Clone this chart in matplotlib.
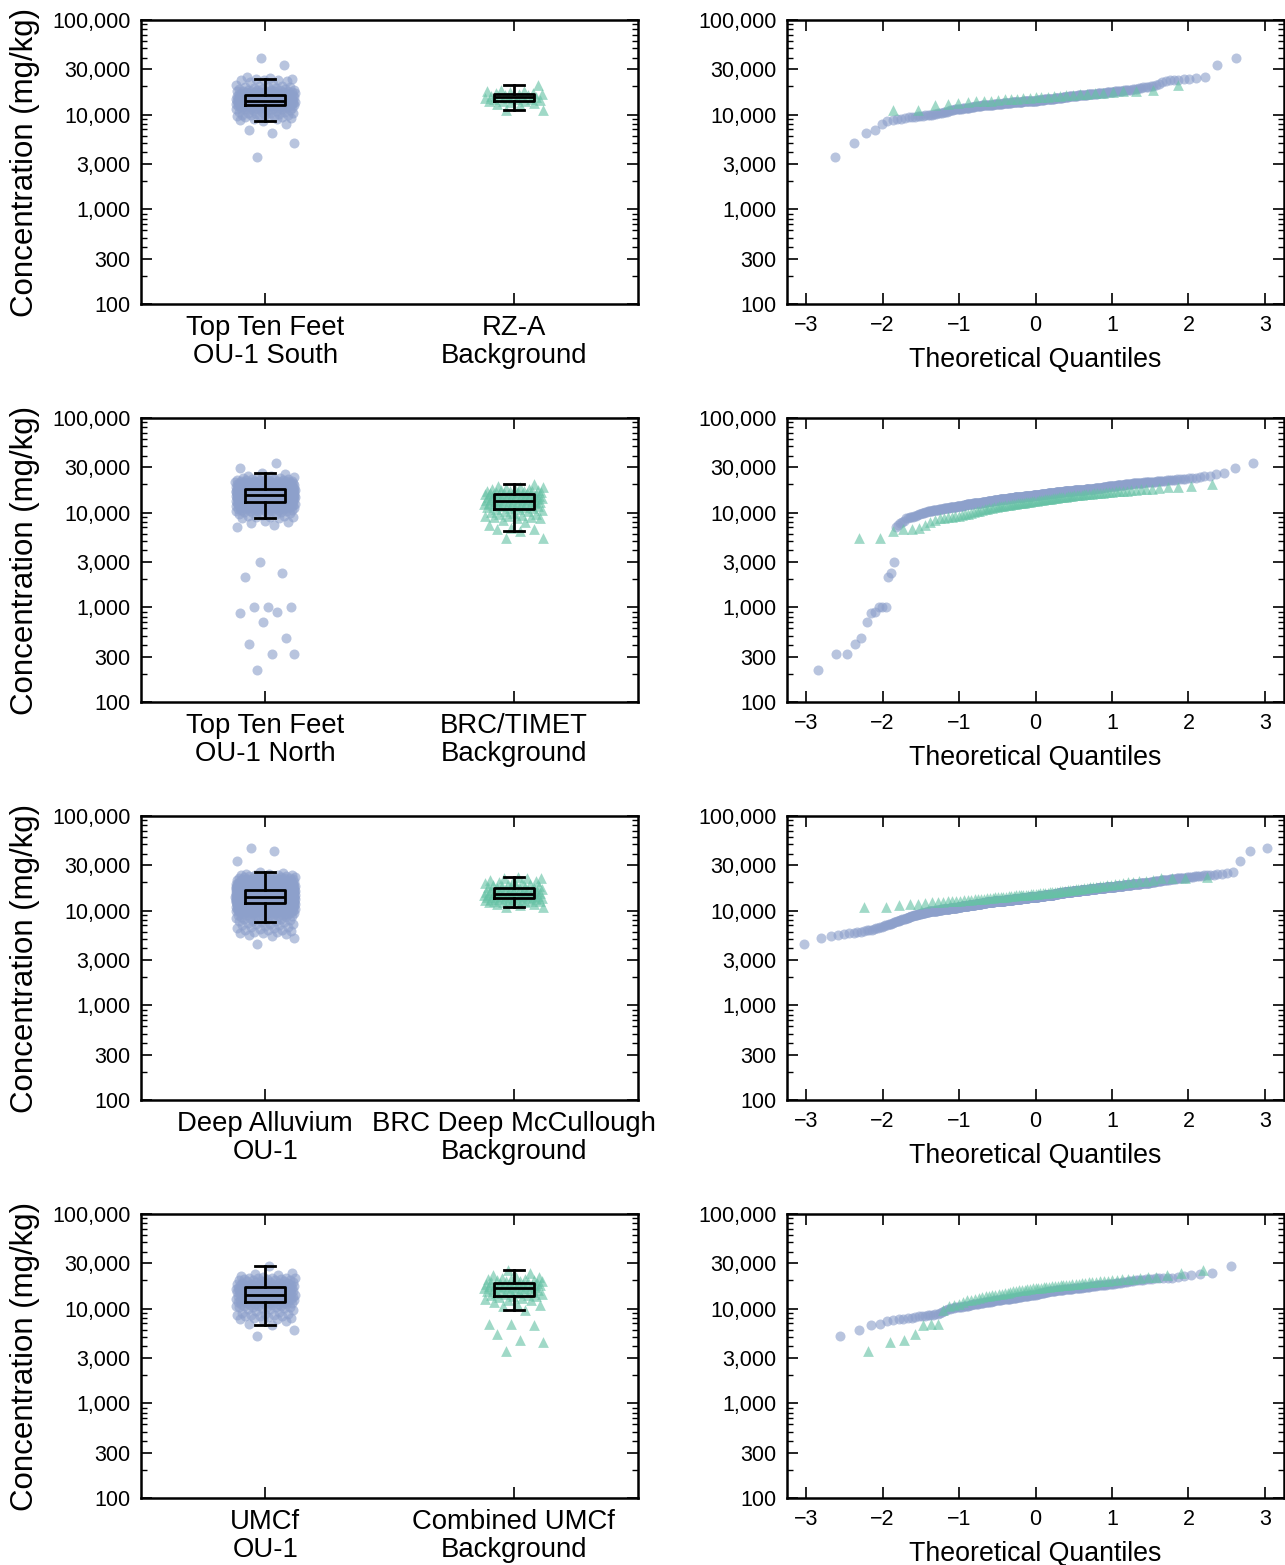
import numpy as np
import matplotlib
matplotlib.use("Agg")
import matplotlib.pyplot as plt
from matplotlib import cbook, ticker
from statistics import NormalDist

plt.rcParams['font.family'] = ['Liberation Sans', 'DejaVu Sans']

# concentrations in mg/kg (sorted)
ou1_south = [
    3600, 5000, 6400, 6900, 7900, 8600, 8700, 8900, 9000,
    9300, 9400, 9500, 9500, 9600, 9600, 9700, 9800, 9800,
    9900, 10000, 10100, 10200, 10300, 10400, 10500, 10600, 10700, 10800, 11000, 11100, 11300,
    11300, 11400, 11400, 11500, 11500, 11600, 11600, 11700, 11700, 11800, 11800, 11900, 11900,
    12000, 12000, 12100, 12100, 12200, 12200, 12300, 12300, 12400, 12400, 12500, 12500, 12500, 12600,
    12600, 12600, 12700, 12700, 12700, 12800, 12800, 12800, 12900, 12900, 12900, 13000, 13000, 13000,
    13100, 13100, 13100, 13200, 13200, 13200, 13300, 13300, 13300, 13300, 13400, 13400, 13400,
    13500, 13500, 13500, 13500, 13600, 13600, 13600, 13600,
    13700, 13700, 13700, 13700, 13700, 13800, 13800, 13800, 13800, 13800, 13900, 13900, 13900, 13900,
    13900, 14000, 14000, 14000, 14000, 14100, 14100,
    14100, 14200, 14200, 14300, 14300, 14300, 14400, 14400, 14400, 14500, 14500, 14500, 14600, 14600,
    14600, 14700, 14700, 14700, 14800, 14800, 14800, 14900, 14900, 14900, 15000, 15000, 15000, 15100,
    15100, 15100, 15200, 15200, 15200, 15300, 15300, 15400, 15500,
    15600, 15600, 15700, 15700, 15800, 15800, 15900, 15900, 15900, 16000, 16000, 16100, 16100, 16100,
    16200, 16200, 16300, 16300, 16300, 16400, 16400, 16500, 16500, 16500, 16600, 16600, 16700, 16700,
    16800, 16800, 16900, 16900,
    17000, 17000, 17100, 17200, 17200, 17300, 17400, 17400, 17500, 17600, 17600, 17700,
    17800, 17900, 18000, 18100, 18200, 18300, 18400, 18400, 18500, 18600,
    18800, 19000, 19200, 19400, 19600, 19800, 19900,
    19900, 20400, 21200, 22100, 22500, 23000, 23300, 23300, 24000, 24000, 24500, 25000, 33200, 39700,
]
rza_background = [
    11100, 11300, 12500, 13000, 13400, 13600, 13800, 14000, 14100, 14300, 14500, 14700, 14800,
    15000, 15100, 15300, 15400, 15500, 15700, 15800, 16000, 16200, 16400, 16600, 16800, 17000,
    17300, 17600, 17800, 18200, 20400,
]
ou1_north = [
    220, 320, 320, 410, 480, 700, 880, 900, 1000, 1000, 1000, 2100, 2300, 3000,
    7100, 7400, 7700, 8000, 8200,
    8700, 8800, 8900,
    9000, 9100, 9200, 9300, 9500,
    9600, 9700, 9800, 9900, 10000, 10100, 10200, 10300,
    10400, 10400, 10500, 10500, 10600, 10600, 10700, 10700, 10800, 10800,
    10900, 10900, 11000, 11000, 11000, 11100, 11100, 11200, 11200, 11200, 11300, 11300, 11400, 11400, 11400,
    11500, 11500, 11500, 11600, 11600, 11600, 11700, 11700, 11700, 11800, 11800, 11800, 11900, 11900,
    11900, 12000, 12000, 12000, 12100, 12100, 12200, 12200, 12200,
    12300, 12300, 12300, 12300, 12400, 12400, 12400, 12400, 12500, 12500, 12500, 12500, 12600, 12600,
    12600, 12600, 12700, 12700, 12700, 12700, 12800, 12800, 12800, 12900, 12900, 12900, 13000, 13000, 13000,
    13100, 13100, 13100, 13100, 13200, 13200, 13200, 13200, 13300, 13300, 13300, 13300, 13400, 13400,
    13400, 13400, 13500, 13500, 13500, 13500, 13600, 13600, 13600, 13600, 13700, 13700, 13700, 13700,
    13800, 13800, 13800, 13800, 13800,
    13900, 13900, 13900, 13900, 14000, 14000, 14000, 14000, 14000, 14100, 14100, 14100, 14100, 14200,
    14200, 14200, 14200, 14200, 14300, 14300, 14300, 14300, 14400, 14400, 14400, 14400, 14400, 14500,
    14500, 14500, 14500, 14600, 14600, 14600, 14600, 14600,
    14700, 14700, 14700, 14700, 14700, 14700, 14700, 14800, 14800, 14800, 14800, 14800, 14800, 14900,
    14900, 14900, 14900, 14900, 14900, 14900, 15000, 15000, 15000, 15000, 15000, 15000, 15100, 15100,
    15100, 15100, 15100, 15100, 15100, 15200, 15200, 15200, 15200, 15200, 15200,
    15300, 15300, 15300, 15300, 15400, 15400, 15400, 15400, 15500, 15500, 15500, 15500, 15600, 15600,
    15600, 15600, 15700, 15700, 15700, 15700, 15800, 15800, 15800, 15800, 15900, 15900, 15900, 15900,
    16000, 16000, 16000, 16000, 16100, 16100, 16100, 16100, 16100,
    16200, 16200, 16200, 16200, 16300, 16300, 16300, 16300, 16300, 16400, 16400, 16400, 16400, 16500,
    16500, 16500, 16500, 16500, 16600, 16600, 16600, 16600, 16700, 16700, 16700, 16700, 16700, 16800,
    16800, 16800, 16800, 16900, 16900, 16900, 16900, 16900,
    17000, 17000, 17000, 17000, 17000, 17000, 17100, 17100, 17100, 17100, 17100, 17100, 17200, 17200,
    17200, 17200, 17200, 17300, 17300, 17300, 17300, 17300, 17300, 17400, 17400, 17400, 17400, 17400,
    17400, 17500, 17500, 17500, 17500, 17500,
    17600, 17600, 17600, 17700, 17700, 17700, 17800, 17800, 17800, 17800, 17900, 17900, 17900, 18000,
    18000, 18000, 18000, 18100, 18100, 18100, 18200, 18200, 18200, 18200, 18300, 18300, 18300, 18300,
    18400, 18400, 18500, 18500, 18600, 18600, 18700, 18700, 18800, 18800, 18900, 18900, 19000, 19000,
    19000, 19100, 19100, 19100, 19200, 19200, 19300, 19300, 19400, 19400,
    19500, 19500, 19600, 19600, 19700, 19700, 19800, 19800, 19900, 19900, 20000, 20000, 20100, 20100,
    20200, 20200, 20400, 20400, 20400,
    20500, 20500, 20600, 20600, 20700, 20700, 20800, 20800, 20900, 20900, 21000, 21000, 21200, 21200, 21200,
    21300, 21300, 21400, 21400, 21600, 21600, 21800, 21800, 22000, 22000,
    22200, 22300, 22400, 22500, 22600, 22700, 22900,
    23000, 23200, 23400, 24000, 24400, 24600, 25500, 26300, 29500, 33300,
]
timet_background = [
    5400, 5400, 6400, 6700, 6800, 6900, 7400, 8000, 8400, 8700,
    8800, 9000, 9100, 9200, 9300, 9400, 9600, 9700,
    9900, 10100, 10300, 10500, 10700, 10900,
    11000, 11100, 11200, 11400, 11500, 11700, 11800,
    11900, 12000, 12000, 12100, 12200, 12300, 12400, 12500,
    12600, 12700, 12800, 12900, 13000, 13100, 13200, 13300,
    13400, 13500, 13600, 13700, 13800, 13900, 14000, 14100,
    14200, 14300, 14400, 14500, 14600, 14700, 14800, 14900,
    15000, 15100, 15200, 15300, 15400, 15500, 15600,
    15700, 15800, 15900, 16000, 16100, 16200, 16300,
    16400, 16500, 16600, 16800, 16900,
    17000, 17100, 17300, 17400, 17600, 17700,
    17800, 18300, 18500, 18500, 19300, 19900,
]
deep_alluvium = [
    4400, 5100, 5400, 5500,
    5700, 5800, 5800, 5900, 6000, 6100,
    6200, 6300, 6300, 6400, 6500, 6600,
    6700, 6800, 6900, 7000,
    7100, 7200, 7300, 7300, 7400, 7500, 7600, 7700, 7700, 7800, 7900, 8000,
    8100, 8100, 8200, 8300, 8400, 8400, 8500, 8600, 8600, 8700, 8800, 8800, 8900, 9000, 9000, 9100,
    9100, 9200,
    9200, 9300, 9300, 9300, 9400, 9400, 9400, 9500, 9500, 9500, 9600, 9600, 9600, 9700, 9700, 9700,
    9800, 9800, 9800, 9800, 9900, 9900, 9900, 10000, 10000, 10000,
    10000, 10000, 10000, 10100, 10100, 10100, 10100, 10100, 10200, 10200, 10200, 10200, 10200, 10300,
    10300, 10300, 10300, 10300, 10400, 10400, 10400, 10400, 10400, 10500, 10500, 10500, 10500, 10500,
    10500, 10600, 10600, 10600, 10600, 10600,
    10700, 10700, 10700, 10700, 10700, 10700, 10800, 10800, 10800, 10800, 10800, 10800, 10900, 10900,
    10900, 10900, 10900, 10900, 11000, 11000, 11000, 11000, 11000, 11000, 11100, 11100, 11100, 11100,
    11100, 11100, 11200, 11200, 11200, 11200, 11200, 11200, 11200, 11300, 11300, 11300, 11300, 11300,
    11300,
    11400, 11400, 11400, 11400, 11400, 11400, 11400, 11500, 11500, 11500, 11500, 11500, 11500, 11500,
    11600, 11600, 11600, 11600, 11600, 11600, 11700, 11700, 11700, 11700, 11700, 11700, 11700, 11800,
    11800, 11800, 11800, 11800, 11800, 11900, 11900, 11900, 11900, 11900, 11900, 11900, 12000, 12000,
    12000, 12000, 12000, 12000, 12100, 12100, 12100, 12100, 12100, 12100,
    12100, 12100, 12100, 12100, 12200, 12200, 12200, 12200, 12200, 12200, 12200, 12200, 12200, 12300,
    12300, 12300, 12300, 12300, 12300, 12300, 12300, 12300, 12400, 12400, 12400, 12400, 12400, 12400,
    12400, 12400, 12400, 12500, 12500, 12500, 12500, 12500, 12500, 12500, 12500, 12500, 12600, 12600,
    12600, 12600, 12600, 12600, 12600, 12600, 12600, 12600, 12700, 12700, 12700, 12700, 12700, 12700,
    12700, 12700, 12700, 12700,
    12700, 12700, 12800, 12800, 12800, 12800, 12800, 12800, 12800, 12800, 12800, 12800, 12900, 12900,
    12900, 12900, 12900, 12900, 12900, 12900, 12900, 12900, 13000, 13000, 13000, 13000, 13000, 13000,
    13000, 13000, 13000, 13000, 13000, 13100, 13100, 13100, 13100, 13100, 13100, 13100, 13100, 13100,
    13100, 13100, 13200, 13200, 13200, 13200, 13200, 13200, 13200, 13200, 13200, 13200, 13200, 13300,
    13300, 13300, 13300, 13300, 13300, 13300, 13300, 13300, 13300, 13300,
    13300, 13300, 13400, 13400, 13400, 13400, 13400, 13400, 13400, 13400, 13400, 13400, 13500, 13500,
    13500, 13500, 13500, 13500, 13500, 13500, 13500, 13500, 13600, 13600, 13600, 13600, 13600, 13600,
    13600, 13600, 13600, 13600, 13700, 13700, 13700, 13700, 13700, 13700, 13700, 13700, 13700, 13700,
    13800, 13800, 13800, 13800, 13800, 13800, 13800, 13800, 13800, 13800, 13900, 13900, 13900, 13900,
    13900, 13900, 13900, 13900, 13900, 13900, 14000, 14000, 14000, 14000, 14000, 14000, 14000, 14000,
    14000, 14000,
    14000, 14000, 14100, 14100, 14100, 14100, 14100, 14100, 14100, 14100, 14100, 14200, 14200, 14200,
    14200, 14200, 14200, 14200, 14200, 14200, 14300, 14300, 14300, 14300, 14300, 14300, 14300, 14300,
    14300, 14400, 14400, 14400, 14400, 14400, 14400, 14400, 14400, 14400, 14500, 14500, 14500, 14500,
    14500, 14500, 14500, 14500, 14500, 14600, 14600, 14600, 14600, 14600, 14600, 14600, 14600, 14600,
    14600, 14700, 14700, 14700, 14700, 14700, 14700, 14700, 14700, 14700, 14700,
    14700, 14700, 14800, 14800, 14800, 14800, 14800, 14800, 14900, 14900, 14900, 14900, 14900, 14900,
    15000, 15000, 15000, 15000, 15000, 15000, 15100, 15100, 15100, 15100, 15100, 15100, 15200, 15200,
    15200, 15200, 15200, 15200, 15300, 15300, 15300, 15300, 15300, 15300, 15400, 15400, 15400, 15400,
    15400, 15400, 15500, 15500, 15500, 15500, 15500, 15500, 15600, 15600, 15600, 15600, 15600, 15600,
    15600, 15600, 15700, 15700, 15700, 15700, 15700, 15700, 15700, 15700,
    15700, 15800, 15800, 15800, 15800, 15800, 15800, 15800, 15900, 15900, 15900, 15900, 15900, 15900,
    15900, 16000, 16000, 16000, 16000, 16000, 16000, 16000, 16000, 16100, 16100, 16100, 16100, 16100,
    16100, 16100, 16200, 16200, 16200, 16200, 16200, 16200, 16200, 16200, 16300, 16300, 16300, 16300,
    16300, 16300, 16300, 16400, 16400, 16400, 16400, 16400, 16400, 16400, 16400, 16500, 16500, 16500,
    16500, 16500, 16500, 16500, 16500,
    16500, 16600, 16600, 16600, 16600, 16600, 16600, 16700, 16700, 16700, 16700, 16700, 16700, 16800,
    16800, 16800, 16800, 16800, 16800, 16900, 16900, 16900, 16900, 16900, 16900, 17000, 17000, 17000,
    17000, 17000, 17000, 17100, 17100, 17100, 17100, 17100, 17100, 17200, 17200, 17200, 17200, 17200,
    17200, 17200, 17200, 17300, 17300, 17300, 17300, 17300, 17300, 17300, 17300,
    17400, 17400, 17400, 17400, 17400, 17500, 17500, 17500, 17500, 17500, 17600, 17600, 17600, 17600,
    17600, 17700, 17700, 17700, 17700, 17700, 17800, 17800, 17800, 17800, 17800, 17900, 17900, 17900,
    17900, 17900, 18000, 18000, 18000, 18000, 18000, 18000, 18100, 18100, 18100, 18100, 18100, 18100,
    18100,
    18200, 18200, 18200, 18200, 18300, 18300, 18300, 18300, 18400, 18400, 18400, 18400, 18500, 18500,
    18500, 18500, 18600, 18600, 18600, 18600, 18700, 18700, 18700, 18700, 18800, 18800, 18800, 18800,
    18900, 18900, 18900, 18900, 19000, 19000, 19000,
    19100, 19100, 19100, 19200, 19200, 19200, 19300, 19300, 19300, 19400, 19400, 19400, 19500, 19500,
    19500, 19600, 19600, 19600, 19700, 19700, 19700, 19800, 19800, 19900, 19900, 19900,
    20000, 20100, 20200, 20300, 20400, 20500, 20600, 20600, 20700, 20800, 20800, 20900, 21000, 21000,
    21100, 21100, 21200, 21200, 21300,
    21400, 21500, 21500, 21600, 21700, 21800, 21900, 22000, 22000, 22100, 22200, 22300, 22400,
    22500, 22600, 22700, 22800, 23000, 23100, 23300,
    23400, 23800, 23900, 24000, 24000, 24200, 24500, 25100, 25800, 33800, 43200, 46000,
]
mccullough_background = [
    11000, 11000, 11600, 11900, 11900, 12100, 12200, 12300, 12400, 12500, 12600,
    12700, 12800, 12900, 13000, 13100, 13200, 13300, 13300, 13400,
    13500, 13600, 13700, 13800, 13800, 13900, 14000, 14100, 14200, 14300, 14400, 14500, 14600,
    14600, 14700, 14800, 14800, 14900, 15000, 15000, 15100, 15200, 15300, 15400, 15500, 15600, 15700,
    15800, 15900, 16000, 16100, 16300, 16400, 16500, 16600, 16800, 16900, 17100, 17200,
    17400, 17600, 17800, 17900, 18100, 18300, 18500, 18800, 19000, 19300,
    19600, 19900, 20200, 20500, 20800, 21300, 22000, 22200, 22400, 22500,
]
umcf_ou1 = [
    5100, 6000, 6800, 6900, 7400, 7500, 7700,
    7800, 7900, 8000, 8100, 8300,
    8400, 8400, 8500, 8600, 8600, 8700,
    8800, 9000, 9300, 9500, 9700, 9800, 10000, 10100,
    10200, 10300, 10300, 10400, 10500, 10500, 10600, 10700, 10800, 10800,
    10900, 11000, 11100, 11100, 11200, 11300, 11300, 11400, 11500, 11500, 11600, 11700,
    11700, 11800, 11800, 11900, 11900, 12000, 12000, 12100, 12200, 12200, 12300, 12300, 12400, 12400,
    12500, 12500, 12600, 12600, 12700, 12700, 12800, 12800, 12900, 12900, 13000, 13000, 13100, 13100,
    13200, 13300,
    13300, 13400, 13400, 13500, 13500, 13600, 13600, 13700, 13700, 13700, 13800, 13800, 13900, 13900,
    14000, 14000, 14100,
    14200, 14300, 14400, 14500, 14600, 14600, 14700, 14800, 14900, 15000, 15000, 15100, 15200, 15200,
    15300, 15400,
    15400, 15500, 15500, 15600, 15600, 15700, 15700, 15800, 15800, 15900, 15900, 16000, 16000, 16100,
    16100,
    16200, 16200, 16300, 16300, 16400, 16400, 16500, 16500, 16600, 16600, 16700, 16700, 16800, 16900,
    16900,
    17000, 17100, 17100, 17200, 17300, 17300, 17400, 17500, 17600, 17600, 17700, 17800,
    17900, 18000, 18000, 18100, 18200, 18300, 18300, 18400, 18500, 18600, 18700,
    18800, 19000, 19100, 19300, 19400, 19600, 19800, 19900,
    20100, 20200, 20300, 20500, 20600, 20800,
    20900, 21000, 21100, 21200,
    21300, 21600, 22000, 22900, 23100, 24000, 28100,
]
umcf_background = [
    3600, 4400, 4700, 5400, 6800, 6900, 6900,
    9600, 10700, 11000, 11300, 11800, 12200,
    12400, 12700, 12900, 13200, 13500, 13700, 13900, 14100, 14200, 14400,
    14600, 14800, 15000, 15200, 15400, 15600, 15700, 15900, 16000, 16200, 16400, 16500,
    16600, 16700, 16800, 17000, 17100, 17200, 17300, 17400, 17600, 17700, 17800, 17900,
    18100, 18200, 18400, 18500, 18700, 18900, 19100, 19200, 19400,
    19600, 19800, 20000, 20200, 20400, 20600, 20800,
    21000, 21600, 21600, 22500, 24000, 25400,
]

site_labels = ['Top Ten Feet\nOU-1 South', 'Top Ten Feet\nOU-1 North',
               'Deep Alluvium\nOU-1', 'UMCf\nOU-1']
background_labels = ['RZ-A\nBackground', 'BRC/TIMET\nBackground',
                     'BRC Deep McCullough\nBackground', 'Combined UMCf\nBackground']
site_data = [ou1_south, ou1_north, deep_alluvium, umcf_ou1]
background_data = [rza_background, timet_background, mccullough_background, umcf_background]

y_ticks = [100, 300, 1000, 3000, 10000, 30000, 100000]
y_ticklabels = ['100', '300', '1,000', '3,000', '10,000', '30,000', '100,000']
qq_ticks = [-3, -2, -1, 0, 1, 2, 3]

SITE_COLOR = '#8da0cb'
BG_COLOR = '#66c2a5'
ALPHA = 0.62
MS = 52


def jitter(n, half=0.12):
    # deterministic spread for the strip points
    k = np.arange(n)
    return ((k * 0.6180339887 + 0.37) % 1.0 - 0.5) * 2 * half


def style_axis(ax):
    ax.set_yscale('log')
    ax.set_ylim(100, 100000)
    ax.set_yticks(y_ticks)
    ax.set_yticklabels(y_ticklabels)
    ax.yaxis.set_minor_locator(ticker.LogLocator(base=10, subs=(2, 4, 5, 6, 7, 8, 9)))
    ax.yaxis.set_minor_formatter(ticker.NullFormatter())
    ax.tick_params(which='both', direction='in', top=True, right=True, labelsize=15.5)
    ax.tick_params(which='major', length=8, width=1.2)
    ax.tick_params(which='minor', length=4, width=1.0)
    ax.tick_params(axis='y', which='major', pad=7.5)
    ax.tick_params(axis='x', which='major', pad=8)
    for s in ax.spines.values():
        s.set_linewidth(1.8)


def log_box(ax, vals, pos):
    st = cbook.boxplot_stats(np.log10(np.asarray(vals, float)), whis=1.5)[0]
    for k in ('med', 'q1', 'q3', 'whislo', 'whishi', 'mean'):
        st[k] = 10 ** st[k]
    st['fliers'] = np.array([])
    lp = dict(color='black', linewidth=2)
    ax.bxp([st], positions=[pos], widths=0.16, showfliers=False, manage_ticks=False,
           boxprops=lp, whiskerprops=lp, capprops=lp, medianprops=lp, zorder=3)


def probplot(vals):
    v = np.sort(np.asarray(vals, float))
    n = len(v)
    nd = NormalDist()
    q = np.array([nd.inv_cdf(i / (n + 1)) for i in range(1, n + 1)])
    return q, v


fig = plt.figure(figsize=(12.85, 15.65), dpi=100)
W, H = 1285.0, 1565.0
row_tops = [20, 418, 816, 1214]
ax_h = 284

for r in range(4):
    bottom = 1 - (row_tops[r] + ax_h) / H

    # strip + box
    ax = fig.add_axes([141 / W, bottom, 497 / W, ax_h / H])
    sd, bd = site_data[r], background_data[r]
    ax.scatter(0 + jitter(len(sd)), sd, s=MS, marker='o', color=SITE_COLOR,
               alpha=ALPHA, linewidths=0, zorder=2)
    ax.scatter(1 + jitter(len(bd)), bd, s=MS + 8, marker='^', color=BG_COLOR,
               alpha=ALPHA, linewidths=0, zorder=2)
    log_box(ax, sd, 0)
    log_box(ax, bd, 1)
    style_axis(ax)
    ax.set_xlim(-0.5, 1.5)
    ax.set_xticks([0, 1])
    ax.set_xticklabels([site_labels[r], background_labels[r]], fontsize=19.8,
                       linespacing=1.1)
    ax.tick_params(axis='x', which='major', pad=8)
    ax.set_ylabel('Concentration (mg/kg)', fontsize=22.5, labelpad=9)

    # probability plot
    ax2 = fig.add_axes([787 / W, bottom, 497 / W, ax_h / H])
    q, v = probplot(sd)
    ax2.scatter(q, v, s=MS, marker='o', color=SITE_COLOR, alpha=ALPHA, linewidths=0, zorder=2)
    q, v = probplot(bd)
    ax2.scatter(q, v, s=MS + 8, marker='^', color=BG_COLOR, alpha=ALPHA, linewidths=0, zorder=3)
    style_axis(ax2)
    ax2.set_xlim(-3.25, 3.25)
    ax2.set_xticks(qq_ticks)
    ax2.set_xticklabels(['\u22123', '\u22122', '\u22121', '0', '1', '2', '3'])
    ax2.set_xlabel('Theoretical Quantiles', fontsize=19.3, labelpad=8)

fig.savefig('out.png', dpi=100)
